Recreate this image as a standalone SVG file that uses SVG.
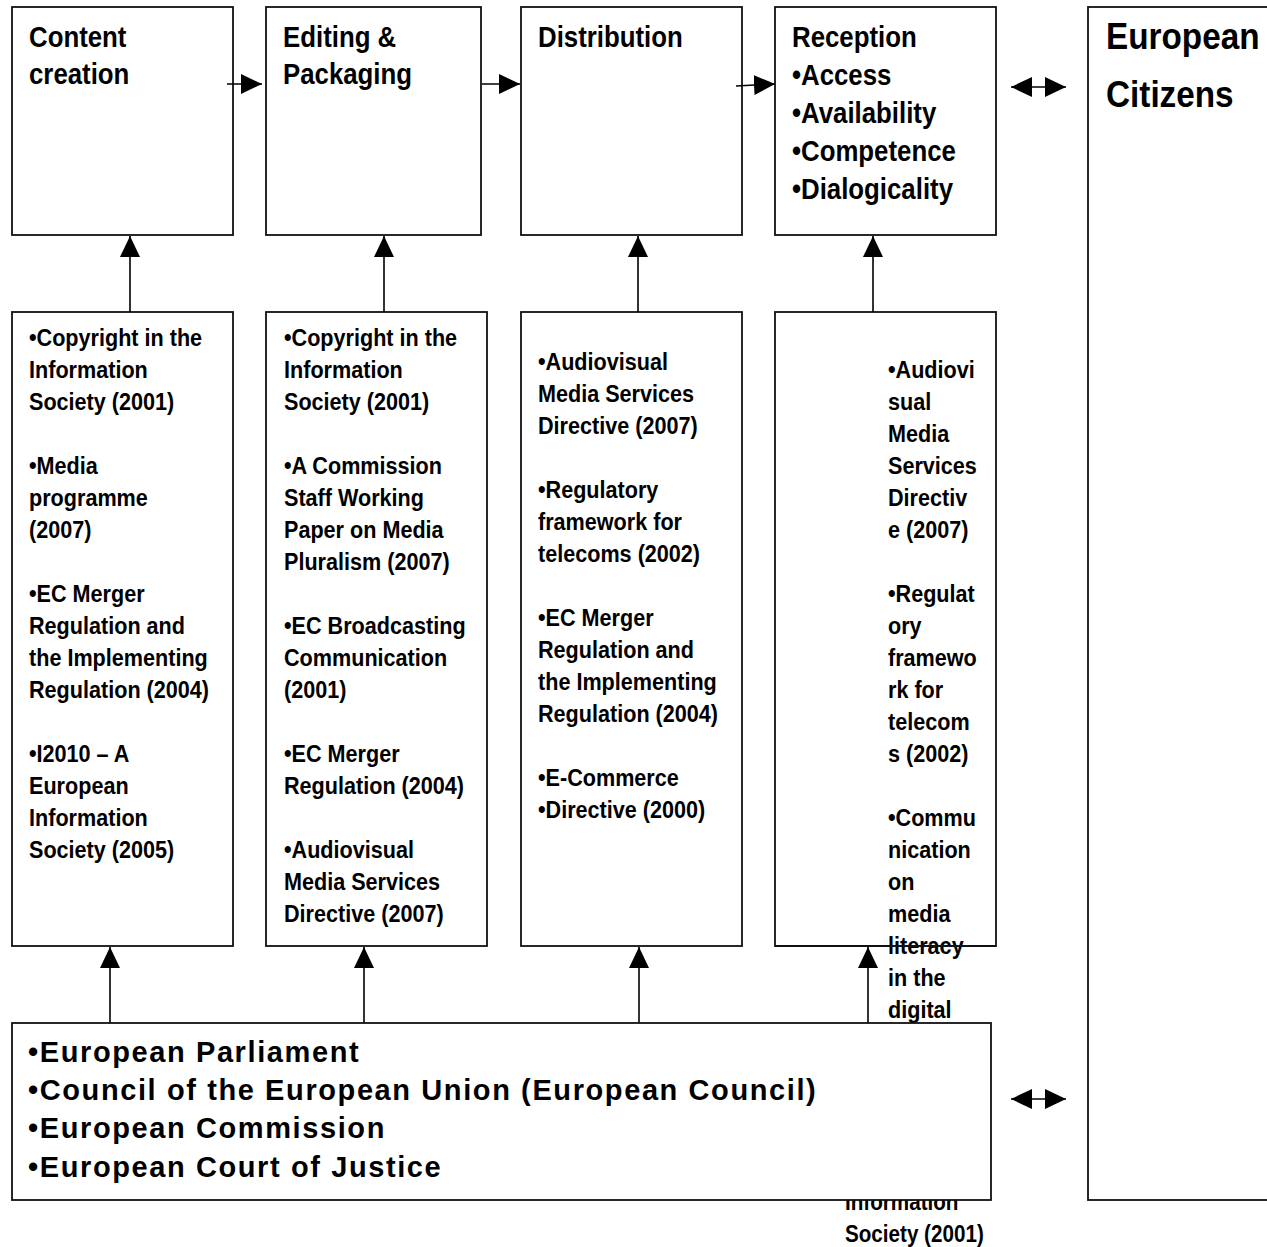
<svg xmlns="http://www.w3.org/2000/svg" width="1267" height="1247" viewBox="0 0 1267 1247">
<defs>
<style>
.box{fill:#fff;stroke:#111;stroke-width:1.8}
.t{font-family:"Liberation Sans",Arial,sans-serif;font-weight:bold;fill:#000}
.t29{font-size:29px}
.t24{font-size:24px}
.t36{font-size:37px}
.t28{font-size:29px;letter-spacing:1.6px}
.con{stroke:#000;stroke-width:1.6;fill:none}
</style>
<marker id="ah" markerUnits="userSpaceOnUse" markerWidth="21" markerHeight="20" viewBox="0 0 21 20" refX="21" refY="10" orient="auto-start-reverse">
<path d="M0,0 L21,10 L0,20 Z" fill="#000"/>
</marker>
</defs>
<rect width="1267" height="1247" fill="#fff"/>

<g id="node-citizens">
<rect class="box" x="1088" y="7" width="200" height="1193"/>
<g transform="translate(1106 0) scale(0.9 1)"><text class="t t36"><tspan x="0" y="49">European</tspan><tspan x="0" y="107">Citizens</tspan></text></g>
</g>

<g id="node-content-creation">
<rect class="box" x="12" y="7" width="221" height="228"/>
<g transform="translate(29 0) scale(0.89 1)"><text class="t t29"><tspan x="0" y="47">Content</tspan><tspan x="0" y="84">creation</tspan></text></g>
</g>
<g id="node-editing">
<rect class="box" x="266" y="7" width="215" height="228"/>
<g transform="translate(283 0) scale(0.89 1)"><text class="t t29"><tspan x="0" y="47">Editing &amp;</tspan><tspan x="0" y="84">Packaging</tspan></text></g>
</g>
<g id="node-distribution">
<rect class="box" x="521" y="7" width="221" height="228"/>
<g transform="translate(538 0) scale(0.89 1)"><text class="t t29"><tspan x="0" y="47">Distribution</tspan></text></g>
</g>
<g id="node-reception">
<rect class="box" x="775" y="7" width="221" height="228"/>
<g transform="translate(792 0) scale(0.89 1)"><text class="t t29"><tspan x="0" y="47">Reception</tspan><tspan x="0" y="85">•Access</tspan><tspan x="0" y="123">•Availability</tspan><tspan x="0" y="161">•Competence</tspan><tspan x="0" y="199">•Dialogicality</tspan></text></g>
</g>

<g id="node-policy-content">
<rect class="box" x="12" y="312" width="221" height="634"/>
<g transform="translate(29 0) scale(0.9 1)"><text class="t t24">
<tspan x="0" y="346">•Copyright in the</tspan><tspan x="0" y="378">Information</tspan><tspan x="0" y="410">Society (2001)</tspan>
<tspan x="0" y="474">•Media</tspan><tspan x="0" y="506">programme</tspan><tspan x="0" y="538">(2007)</tspan>
<tspan x="0" y="602">•EC Merger</tspan><tspan x="0" y="634">Regulation and</tspan><tspan x="0" y="666">the Implementing</tspan><tspan x="0" y="698">Regulation (2004)</tspan>
<tspan x="0" y="762">•I2010 – A</tspan><tspan x="0" y="794">European</tspan><tspan x="0" y="826">Information</tspan><tspan x="0" y="858">Society (2005)</tspan>
</text></g>
</g>
<g id="node-policy-editing">
<rect class="box" x="266" y="312" width="221" height="634"/>
<g transform="translate(284 0) scale(0.9 1)"><text class="t t24">
<tspan x="0" y="346">•Copyright in the</tspan><tspan x="0" y="378">Information</tspan><tspan x="0" y="410">Society (2001)</tspan>
<tspan x="0" y="474">•A Commission</tspan><tspan x="0" y="506">Staff Working</tspan><tspan x="0" y="538">Paper on Media</tspan><tspan x="0" y="570">Pluralism (2007)</tspan>
<tspan x="0" y="634">•EC Broadcasting</tspan><tspan x="0" y="666">Communication</tspan><tspan x="0" y="698">(2001)</tspan>
<tspan x="0" y="762">•EC Merger</tspan><tspan x="0" y="794">Regulation (2004)</tspan>
<tspan x="0" y="858">•Audiovisual</tspan><tspan x="0" y="890">Media Services</tspan><tspan x="0" y="922">Directive (2007)</tspan>
</text></g>
</g>
<g id="node-policy-distribution">
<rect class="box" x="521" y="312" width="221" height="634"/>
<g transform="translate(538 0) scale(0.9 1)"><text class="t t24">
<tspan x="0" y="370">•Audiovisual</tspan><tspan x="0" y="402">Media Services</tspan><tspan x="0" y="434">Directive (2007)</tspan>
<tspan x="0" y="498">•Regulatory</tspan><tspan x="0" y="530">framework for</tspan><tspan x="0" y="562">telecoms (2002)</tspan>
<tspan x="0" y="626">•EC Merger</tspan><tspan x="0" y="658">Regulation and</tspan><tspan x="0" y="690">the Implementing</tspan><tspan x="0" y="722">Regulation (2004)</tspan>
<tspan x="0" y="786">•E-Commerce</tspan><tspan x="0" y="818">•Directive (2000)</tspan>
</text></g>
</g>
<g id="node-policy-reception">
<rect class="box" x="775" y="312" width="221" height="634"/>
<g transform="translate(888 0) scale(0.9 1)"><text class="t t24">
<tspan x="0" y="378">•Audiovi</tspan><tspan x="0" y="410">sual</tspan><tspan x="0" y="442">Media</tspan><tspan x="0" y="474">Services</tspan><tspan x="0" y="506">Directiv</tspan><tspan x="0" y="538">e (2007)</tspan>
<tspan x="0" y="602">•Regulat</tspan><tspan x="0" y="634">ory</tspan><tspan x="0" y="666">framewo</tspan><tspan x="0" y="698">rk for</tspan><tspan x="0" y="730">telecom</tspan><tspan x="0" y="762">s (2002)</tspan>
<tspan x="0" y="826">•Commu</tspan><tspan x="0" y="858">nication</tspan><tspan x="0" y="890">on</tspan><tspan x="0" y="922">media</tspan><tspan x="0" y="954">literacy</tspan><tspan x="0" y="986">in the</tspan><tspan x="0" y="1018">digital</tspan>
</text></g>
<g transform="translate(845 0) scale(0.86 1)"><text class="t t24"><tspan x="0" y="1210">Information</tspan><tspan x="0" y="1242">Society (2001)</tspan></text></g>
<line x1="775" y1="946" x2="996" y2="946" stroke="#111" stroke-width="1.8"/>
</g>

<g id="connectors">
<line class="con" x1="227" y1="84" x2="262" y2="84" marker-end="url(#ah)"/>
<line class="con" x1="482" y1="84" x2="520" y2="84" marker-end="url(#ah)"/>
<line class="con" x1="736" y1="86" x2="775" y2="84" marker-end="url(#ah)"/>
<line class="con" x1="130" y1="312" x2="130" y2="236" marker-end="url(#ah)"/>
<line class="con" x1="384" y1="312" x2="384" y2="236" marker-end="url(#ah)"/>
<line class="con" x1="638" y1="312" x2="638" y2="236" marker-end="url(#ah)"/>
<line class="con" x1="873" y1="312" x2="873" y2="236" marker-end="url(#ah)"/>
<line class="con" x1="110" y1="1023" x2="110" y2="947" marker-end="url(#ah)"/>
<line class="con" x1="364" y1="1023" x2="364" y2="947" marker-end="url(#ah)"/>
<line class="con" x1="639" y1="1023" x2="639" y2="947" marker-end="url(#ah)"/>
<line class="con" x1="868" y1="1023" x2="868" y2="947" marker-end="url(#ah)"/>
<line class="con" x1="1011" y1="87" x2="1066" y2="87" marker-start="url(#ah)" marker-end="url(#ah)"/>
<line class="con" x1="1011" y1="1099" x2="1066" y2="1099" marker-start="url(#ah)" marker-end="url(#ah)"/>
</g>

<g id="node-institutions">
<rect class="box" x="12" y="1023" width="979" height="177"/>
<text class="t t28"><tspan x="28" y="1062">•European Parliament</tspan><tspan x="28" y="1100">•Council of the European Union (European Council)</tspan><tspan x="28" y="1138">•European Commission</tspan><tspan x="28" y="1177">•European Court of Justice</tspan></text>
</g>
</svg>
